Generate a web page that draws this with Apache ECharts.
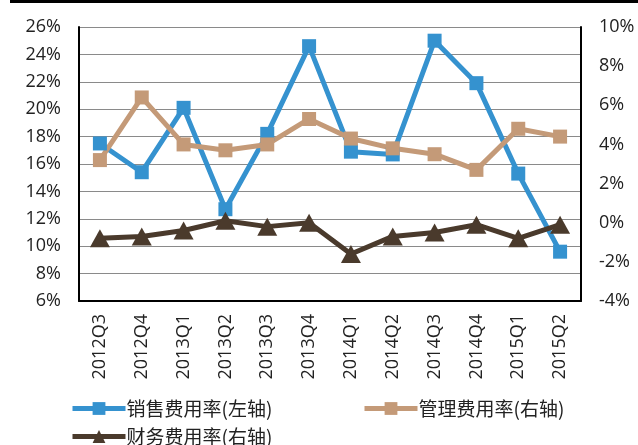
<!DOCTYPE html>
<html>
<head>
<meta charset="utf-8">
<script src="https://cdn.jsdelivr.net/npm/echarts@6/dist/echarts.min.js"></script>
<style>
  html, body { margin: 0; padding: 0; background: #fff; }
  #chart { width: 638px; height: 445px; }
</style>
</head>
<body>
<div id="chart"></div>
<script>
// Quarterly expense ratios
const quarters = ['2012Q3','2012Q4','2013Q1','2013Q2','2013Q3','2013Q4','2014Q1','2014Q2','2014Q3','2014Q4','2015Q1','2015Q2'];
const salesRate = [17.5, 15.4, 20.1, 12.7, 18.2, 24.6, 16.9, 16.7, 25.0, 21.9, 15.3, 9.6];   // left axis
const adminRate = [3.2, 6.4, 4.0, 3.7, 4.0, 5.3, 4.3, 3.8, 3.5, 2.7, 4.8, 4.4];            // right axis
const financeRate = [-0.8, -0.7, -0.4, 0.1, -0.2, 0.0, -1.6, -0.7, -0.5, -0.1, -0.8, -0.1]; // right axis

const seriesNames = ['销售费用率(左轴)', '管理费用率(右轴)', '财务费用率(右轴)'];
const colors = ['#3592CF', '#C49A78', '#4A3A2C'];

const font = '"Open Sans", "Noto Sans CJK SC", sans-serif';
const chart = echarts.init(document.getElementById('chart'), null, { renderer: 'canvas' });

const legendBase = {
  itemWidth: 53,
  itemHeight: 16,
  itemStyle: { borderWidth: 0 },
  lineStyle: { width: 5 },
  textStyle: { fontFamily: '"Noto Sans CJK SC", sans-serif', fontSize: 19, color: '#222', padding: [0, 0, 0, -4] },
  padding: 0
};

chart.setOption({
  animation: false,
  color: colors,
  graphic: [{
    type: 'rect',
    shape: { x: 10, y: 0, width: 628, height: 3 },
    style: { fill: '#000' }
  }],
  grid: { left: 79, right: 57, top: 27, bottom: 144 },
  legend: [
    Object.assign({ data: [seriesNames[0]], left: 70, top: 399 }, legendBase),
    Object.assign({ data: [seriesNames[1]], left: 362, top: 399 }, legendBase),
    Object.assign({ data: [seriesNames[2]], left: 70, top: 427 }, legendBase)
  ],
  xAxis: {
    type: 'category',
    data: quarters,
    boundaryGap: true,
    axisLine: { onZero: false, lineStyle: { color: '#000', width: 2 } },
    axisTick: { show: false },
    axisLabel: { rotate: 90, fontFamily: font, fontSize: 18, color: '#222', margin: 13 }
  },
  yAxis: [{
    type: 'value',
    min: 6, max: 26, interval: 2,
    axisLine: { show: true, lineStyle: { color: '#000', width: 2 } },
    axisTick: { show: false },
    splitLine: { lineStyle: { color: '#8a8a8a', width: 1.2 } },
    axisLabel: { formatter: '{value}%', fontFamily: font, fontSize: 18, color: '#222', margin: 18 }
  }, {
    type: 'value',
    min: -4, max: 10, interval: 2,
    position: 'right',
    axisLine: { show: true, lineStyle: { color: '#000', width: 2 } },
    axisTick: { show: false },
    splitLine: { show: false },
    axisLabel: { formatter: '{value}%', fontFamily: font, fontSize: 18, color: '#222', margin: 18 }
  }],
  series: [{
    name: seriesNames[0],
    type: 'line',
    yAxisIndex: 0,
    data: salesRate,
    symbol: 'rect',
    symbolSize: 14,
    lineStyle: { width: 5, color: colors[0] },
    itemStyle: { color: colors[0] }
  }, {
    name: seriesNames[1],
    type: 'line',
    yAxisIndex: 1,
    data: adminRate,
    symbol: 'rect',
    symbolSize: 14,
    lineStyle: { width: 5, color: colors[1] },
    itemStyle: { color: colors[1] }
  }, {
    name: seriesNames[2],
    type: 'line',
    yAxisIndex: 1,
    data: financeRate,
    symbol: 'triangle',
    symbolSize: [20, 18],
    lineStyle: { width: 5, color: colors[2] },
    itemStyle: { color: colors[2] }
  }]
});
</script>
</body>
</html>
